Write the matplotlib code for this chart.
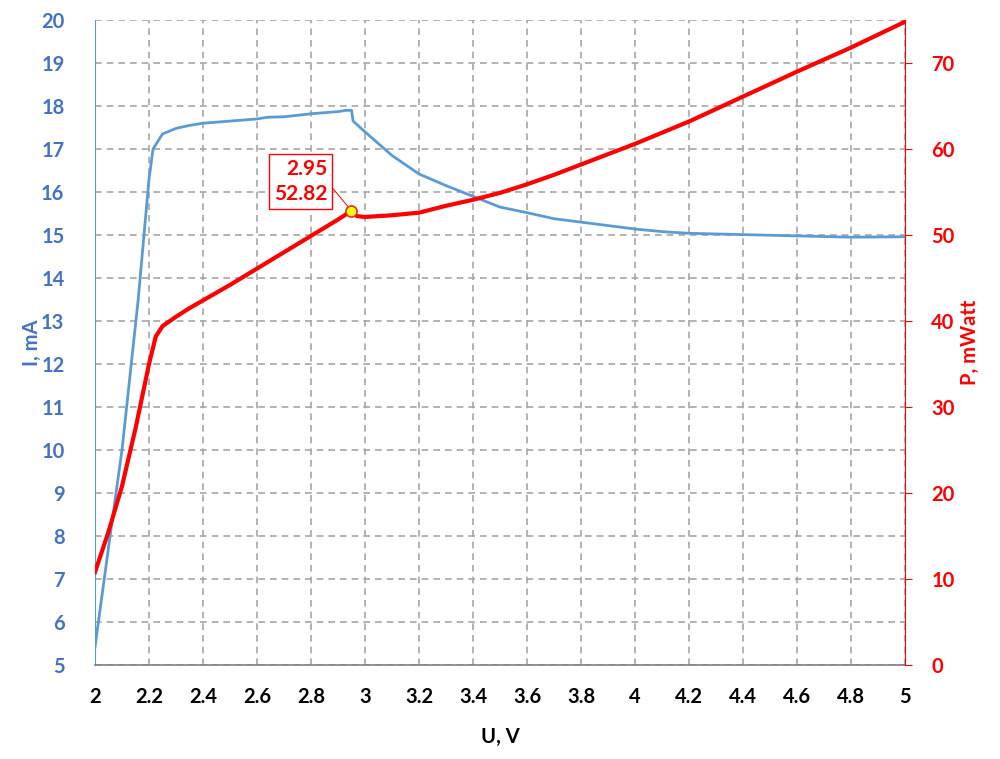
import numpy as np
import matplotlib
matplotlib.use('Agg')
import matplotlib.pyplot as plt

plt.rcParams['font.family'] = ['Lato', 'DejaVu Sans']

# current curve I(U)
u_i = [2.0, 2.063, 2.1, 2.16, 2.2, 2.215, 2.25, 2.3, 2.35, 2.4, 2.5, 2.6, 2.64, 2.7, 2.8,
       2.9, 2.93, 2.95, 2.956, 3.0, 3.1, 3.2, 3.3, 3.4, 3.5, 3.6, 3.7, 3.8, 3.9, 4.0,
       4.1, 4.2, 4.4, 4.6, 4.8, 5.0]
i_ma = [5.42, 8.33, 10.0, 13.5, 16.3, 17.0, 17.35, 17.48, 17.55, 17.6, 17.65, 17.7, 17.74, 17.75, 17.82,
        17.87, 17.9, 17.9, 17.65, 17.4, 16.85, 16.42, 16.15, 15.9, 15.65, 15.52, 15.38, 15.3, 15.22, 15.14,
        15.08, 15.04, 15.01, 14.98, 14.95, 14.96]

# power curve P(U)
u_p = [2.0, 2.05, 2.1, 2.15, 2.2, 2.225, 2.25, 2.3, 2.35, 2.4, 2.5, 2.6, 2.7, 2.8, 2.9, 2.95,
       2.97, 3.0, 3.1, 3.2, 3.3, 3.4, 3.5, 3.6, 3.7, 3.8, 3.9, 4.0, 4.2, 4.4, 4.6, 4.8, 5.0]
p_mw = [10.8, 15.5, 20.8, 27.5, 35.0, 38.2, 39.4, 40.5, 41.5, 42.4, 44.2, 46.1, 48.0, 49.9, 51.8, 52.82,
        52.2, 52.1, 52.3, 52.6, 53.4, 54.1, 54.9, 55.9, 57.0, 58.2, 59.4, 60.6, 63.2, 66.1, 69.0, 71.8, 74.8]

peak_u = 2.95
peak_p = 52.82

blue = '#5b9bd5'
blue_txt = '#4472c4'
red = '#ff0000'

fig = plt.figure(figsize=(10, 7.59), dpi=100)
ax = fig.add_axes([0.095, 0.1238, 0.81, 0.8498])
ax2 = ax.twinx()

ax.plot(u_i, i_ma, color=blue, lw=2.0, zorder=3)
ax2.plot(u_p, p_mw, color=red, lw=3.0, zorder=3)
ax2.plot([peak_u], [peak_p], 'o', ms=8, mfc='#ffff00', mec='#e03030', mew=1.2, zorder=5)
ax2.annotate('{:.2f}\n{:.2f}'.format(peak_u, peak_p), xy=(peak_u, peak_p),
             xytext=(-51, 29), textcoords='offset pixels', ha='center', va='center',
             multialignment='right', color=red, fontsize=15, fontweight='bold', linespacing=1.3,
             bbox=dict(boxstyle='square,pad=0.25', fc='white', ec=red, lw=1),
             arrowprops=dict(arrowstyle='-', color=red, lw=0.7, relpos=(1, 0.5), shrinkA=0, shrinkB=4))

ax.set_xlim(2, 5)
ax.set_ylim(5, 20)
ax2.set_ylim(0, 75)
ax.set_xticks(np.arange(2, 5.01, 0.2))
ax.set_xticklabels(['{:g}'.format(round(v, 1)) for v in np.arange(2, 5.01, 0.2)])
ax.set_yticks(np.arange(5, 21, 1))
ax2.set_yticks(np.arange(0, 71, 10))

ax.grid(True, color='#a6a6a6', ls=(0, (4, 3)), lw=1.2)
ax.set_axisbelow(True)

for s in ['top']:
    ax.spines[s].set_visible(False)
    ax2.spines[s].set_visible(False)
ax.spines['left'].set_color(blue)
ax.spines['bottom'].set_color('#808080')
ax.spines['bottom'].set_linewidth(1.2)
ax2.spines['right'].set_color(red)
ax2.spines['left'].set_visible(False)
ax2.spines['bottom'].set_visible(False)
ax.spines['right'].set_visible(False)

ax.tick_params(axis='x', length=0, pad=16, labelsize=14.5, labelcolor='black')
ax.tick_params(axis='y', length=0, pad=22, labelsize=14.5, labelcolor=blue_txt)
ax2.tick_params(axis='y', length=5, color=red, pad=14, labelsize=14.5, labelcolor=red)
for lab in ax.get_xticklabels() + ax.get_yticklabels() + ax2.get_yticklabels():
    lab.set_fontweight('bold')

ax.set_xlabel('U, V', fontsize=14.5, fontweight='bold')
ax.set_ylabel('I, mA', fontsize=14.5, fontweight='bold', color=blue_txt)
ax2.set_ylabel('P, mWatt', fontsize=14.5, fontweight='bold', color=red)
ax.xaxis.set_label_coords(0.5, -0.096)
ax.yaxis.set_label_coords(-0.066, 0.5)
ax2.yaxis.set_label_coords(1.068, 0.5)

fig.savefig('out.png', dpi=100)
